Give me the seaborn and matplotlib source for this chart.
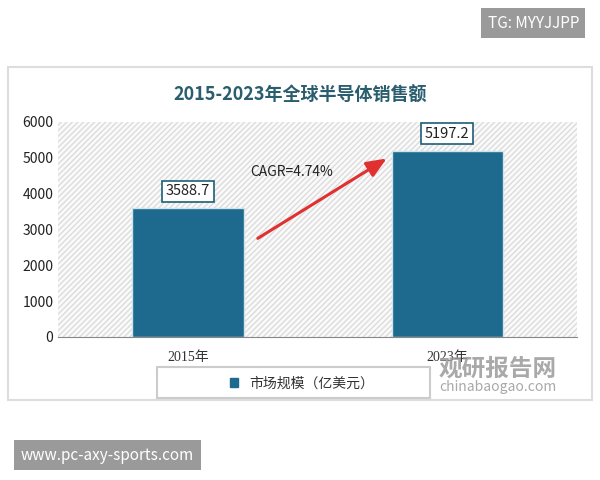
import matplotlib.pyplot as plt
import matplotlib.patches as mpatches
import seaborn as sns
import pandas as pd

years = ["2015年", "2023年"]
sales = [3588.7, 5197.2]
series_name = "市场规模（亿美元）"
title = "2015-2023年全球半导体销售额"
cagr_label = "CAGR=4.74%"

sns.set_style("white")
plt.rcParams['font.family'] = ['Noto Sans CJK SC', 'DejaVu Sans']

bar_color = "#1d6a8e"
df = pd.DataFrame({"year": years, "sales": sales})

fig = plt.figure(figsize=(6, 4.8), dpi=100)
# outer frame
fig.patches.append(mpatches.Rectangle((0.014, 0.167), 0.972, 0.693, transform=fig.transFigure,
                                      facecolor="white", edgecolor="#dddddd", lw=1.5, zorder=-5))
# legend frame (wide), legend itself drawn frameless on top
fig.patches.append(mpatches.Rectangle((157 / 600, 1 - 398 / 480), 273 / 600, 31 / 480,
                                      transform=fig.transFigure, facecolor="white",
                                      edgecolor="#cccccc", lw=1.5, zorder=-4))
ax = fig.add_axes([0.097, 0.298, 0.865, 0.448])
ax.set_facecolor("none")
ax.add_patch(mpatches.Rectangle((0, 0), 1, 1, transform=ax.transAxes, facecolor="#fafafa",
                                edgecolor="#dcdcdc", hatch="//////", lw=0, zorder=0))
sns.barplot(data=df, x="year", y="sales", color=bar_color, width=0.43, ax=ax,
            edgecolor="#cfe3ea", linewidth=1, saturation=1, zorder=2)
ax.set_xlim(-0.5, 1.5)
ax.set_ylim(0, 6000)
ax.set_yticks(range(0, 6001, 1000))
ax.set_xlabel("")
ax.set_ylabel("")
for s in ["top", "right", "left"]:
    ax.spines[s].set_visible(False)
ax.spines["bottom"].set_color("#888888")
ax.tick_params(axis="y", labelsize=10, colors="#222222", length=0)
ax.tick_params(axis="x", labelsize=10, colors="#333333", length=0, pad=10)
for lbl in ax.get_xticklabels():
    lbl.set_fontfamily(["Liberation Serif", "Noto Sans CJK SC"])

for i, v in enumerate(sales):
    ax.text(i, v + 280, f"{v}", ha="center", va="bottom", fontsize=10.5, color="#222222",
            bbox=dict(boxstyle="square,pad=0.25", facecolor="white", edgecolor="#1d5f75", lw=1.2))

ax.annotate("", xy=(0.775, 5020), xytext=(0.26, 2710),
            arrowprops=dict(arrowstyle="-|>,head_length=1.2,head_width=0.5", color="#e03030", lw=2.2))
ax.text(0.40, 4600, cagr_label, ha="center", va="center", fontsize=10, color="#222222")

fig.text(0.5, 0.802, title, ha="center", va="center", fontsize=13, fontweight="bold", color="#2a5d6e")

leg = ax.legend(handles=[mpatches.Patch(color=bar_color, label=series_name)], loc="center",
                bbox_to_anchor=(0.47, -0.215), frameon=False, fontsize=10,
                handlelength=0.6, handleheight=0.6)
for t in leg.get_texts():
    t.set_color("#333333")

# watermarks
fig.text(0.965, 0.952, "TG: MYYJJPP", ha="right", va="center", fontsize=11, color="white",
         bbox=dict(boxstyle="square,pad=0.4", facecolor="#9a9a9a", edgecolor="none"))
fig.text(0.035, 0.052, "www.pc-axy-sports.com", ha="left", va="center", fontsize=11, color="white",
         bbox=dict(boxstyle="square,pad=0.45", facecolor="#9a9a9a", edgecolor="none"))
fig.text(0.83, 0.232, "观研报告网", ha="center", va="center", fontsize=17, fontweight="bold", color="#9a9a9a", alpha=0.85)
fig.text(0.83, 0.193, "chinabaogao.com", ha="center", va="center", fontsize=10, color="#9a9a9a", alpha=0.85)

fig.savefig("out.png", dpi=100)
